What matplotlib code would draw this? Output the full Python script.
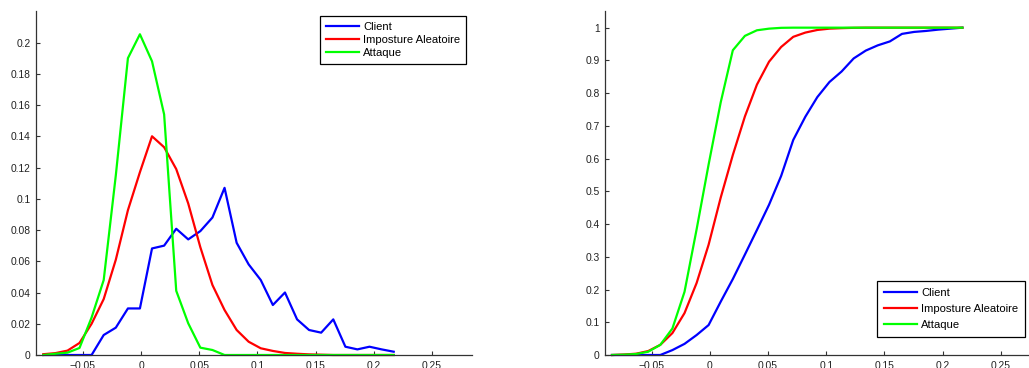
import matplotlib
matplotlib.use("Agg")
import matplotlib.pyplot as plt

plt.rcParams['font.family'] = ['Liberation Sans', 'DejaVu Sans']

# bin centres (shared by both panels)
scores = [-0.0840, -0.0736, -0.0632, -0.0529, -0.0425, -0.0321, -0.0217, -0.0113,
          -0.0010, 0.0094, 0.0198, 0.0302, 0.0405, 0.0509, 0.0613, 0.0717,
          0.0821, 0.0924, 0.1028, 0.1132, 0.1236, 0.1340, 0.1443, 0.1547,
          0.1651, 0.1755, 0.1858, 0.1962, 0.2066, 0.2170]

# left panel: normalised histograms
client_pdf = [0, 0, 0, 0, 0, 0.0128, 0.0175, 0.0298, 0.0298, 0.0682, 0.0700, 0.0808,
              0.0740, 0.0793, 0.0880, 0.1070, 0.0718, 0.0580, 0.0480, 0.0320, 0.0400,
              0.0228, 0.0160, 0.0143, 0.0228, 0.0053, 0.0036, 0.0053, 0.0036, 0.0021]
impost_pdf = [0.0005, 0.0012, 0.0028, 0.0077, 0.0200, 0.0358, 0.0610, 0.0927, 0.1170,
              0.1400, 0.1330, 0.1190, 0.0970, 0.0690, 0.0448, 0.0288, 0.0160, 0.0085,
              0.0043, 0.0026, 0.0013, 0.0008, 0.0004, 0.0002, 0, 0, 0, 0, 0, 0]
attack_pdf = [0, 0.0008, 0.0015, 0.0045, 0.0240, 0.0480, 0.1150, 0.1900, 0.2053,
              0.1880, 0.1540, 0.0411, 0.0203, 0.0047, 0.0032, 0, 0, 0, 0, 0, 0,
              0, 0, 0, 0, 0, 0, 0, 0, 0]

# right panel: cumulative curves
client_cdf = [0, 0, 0, 0, 0, 0.015, 0.034, 0.061, 0.0915, 0.163, 0.232, 0.307, 0.382,
              0.459, 0.547, 0.657, 0.728, 0.788, 0.834, 0.866, 0.906, 0.930, 0.946,
              0.958, 0.981, 0.987, 0.990, 0.994, 0.997, 1.0]
impost_cdf = [0, 0.0015, 0.004, 0.012, 0.031, 0.067, 0.128, 0.220, 0.337, 0.481,
              0.611, 0.729, 0.826, 0.896, 0.941, 0.972, 0.985, 0.993, 0.997, 0.9985,
              0.9995, 1.0, 1.0, 1.0, 1.0, 1.0, 1.0, 1.0, 1.0, 1.0]
attack_cdf = [0, 0.001, 0.003, 0.010, 0.031, 0.081, 0.193, 0.384, 0.582, 0.772,
              0.931, 0.975, 0.992, 0.997, 0.9995, 1.0, 1.0, 1.0, 1.0, 1.0, 1.0,
              1.0, 1.0, 1.0, 1.0, 1.0, 1.0, 1.0, 1.0, 1.0]

names = ['Client', 'Imposture Aleatoire', 'Attaque']
colors = ['#0000ff', '#ff0000', '#00ff00']

xticks = [-0.05, 0, 0.05, 0.1, 0.15, 0.2, 0.25]
xlabels = ['\u22120.05', '0', '0.05', '0.1', '0.15', '0.2', '0.25']
yticks_l = [0, 0.02, 0.04, 0.06, 0.08, 0.1, 0.12, 0.14, 0.16, 0.18, 0.2]
ylabels_l = ['0', '0.02', '0.04', '0.06', '0.08', '0.1', '0.12', '0.14', '0.16', '0.18', '0.2']
yticks_r = [0, 0.1, 0.2, 0.3, 0.4, 0.5, 0.6, 0.7, 0.8, 0.9, 1]
ylabels_r = ['0', '0.1', '0.2', '0.3', '0.4', '0.5', '0.6', '0.7', '0.8', '0.9', '1']

W, H = 1029, 368
fig = plt.figure(figsize=(W / 100, H / 100), dpi=100)
axL = fig.add_axes([36.3 / W, 1 - 355 / H, 435.4 / W, 343.7 / H])
axR = fig.add_axes([605 / W, 1 - 355 / H, 435.4 / W, 343.7 / H])


def style(ax, yt, yl, ytop):
    ax.set_xlim(-0.09, 0.284)
    ax.set_ylim(0, ytop)
    ax.set_xticks(xticks)
    ax.set_xticklabels(xlabels)
    ax.set_yticks(yt)
    ax.set_yticklabels(yl)
    for s in ['top', 'right']:
        ax.spines[s].set_visible(False)
    for s in ['left', 'bottom']:
        ax.spines[s].set_color('#333333')
        ax.spines[s].set_linewidth(0.9)
    ax.tick_params(direction='in', length=3, width=0.8, color='#333333',
                   labelsize=7.4, labelcolor='#222222', pad=4)


for y, c, n in zip([client_pdf, impost_pdf, attack_pdf], colors, names):
    axL.plot(scores, y, color=c, lw=1.6, label=n, clip_on=False)
for y, c, n in zip([client_cdf, impost_cdf, attack_cdf], colors, names):
    axR.plot(scores, y, color=c, lw=1.6, label=n, clip_on=False)

style(axL, yticks_l, ylabels_l, 0.22)
style(axR, yticks_r, ylabels_r, 1.05)

legL = axL.legend(loc='upper right', bbox_to_anchor=((466 - 36.3) / 435.4, (355 - 16) / 343.7),
                  borderaxespad=0, fontsize=8.1, handlelength=3.0, labelspacing=0.3,
                  handletextpad=0.35, borderpad=0.5, fancybox=False, framealpha=1)
legR = axR.legend(loc='lower right', bbox_to_anchor=((1025.3 - 605) / 435.4, (355 - 336.7) / 343.7),
                  borderaxespad=0, fontsize=8.1, handlelength=3.0, labelspacing=0.55,
                  handletextpad=0.35, borderpad=0.6, fancybox=False, framealpha=1)
for lg in (legL, legR):
    lg.get_frame().set_edgecolor('black')
    lg.get_frame().set_linewidth(0.9)

fig.savefig('out.png', dpi=100)
